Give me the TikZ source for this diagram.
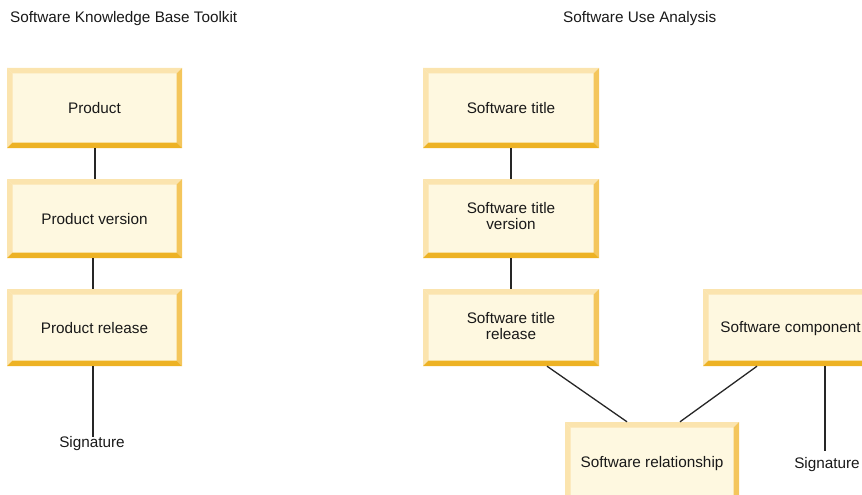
\documentclass[tikz,border=0pt]{standalone}
\usepackage{fontspec}
\setmainfont{Liberation Sans}
\definecolor{bevfill}{HTML}{FEF8E0}
\definecolor{bevlight}{HTML}{FBE4AE}
\definecolor{bevright}{HTML}{F4C65C}
\definecolor{bevbottom}{HTML}{EDB224}
\begin{document}
\begin{tikzpicture}[x=1pt,y=1pt,
  font=\fontsize{15.3}{16}\selectfont,
  bev/.store in=\bevw, bev=5.5pt,
  textshift/.store in=\entityshift, textshift=-0.3pt,
  entity/.style={rectangle, minimum width=175pt, minimum height=80pt,
    align=center, inner sep=0pt, fill=bevfill,
    path picture={
      \fill[bevlight] (path picture bounding box.north west) -- (path picture bounding box.north east)
        -- ([shift={(-\bevw,-\bevw)}]path picture bounding box.north east)
        -- ([shift={(\bevw,-\bevw)}]path picture bounding box.north west) -- cycle;
      \fill[bevlight] (path picture bounding box.north west) -- ([shift={(\bevw,-\bevw)}]path picture bounding box.north west)
        -- ([shift={(\bevw,\bevw)}]path picture bounding box.south west)
        -- (path picture bounding box.south west) -- cycle;
      \fill[bevright] (path picture bounding box.north east) -- (path picture bounding box.south east)
        -- ([shift={(-\bevw,\bevw)}]path picture bounding box.south east)
        -- ([shift={(-\bevw,-\bevw)}]path picture bounding box.north east) -- cycle;
      \fill[bevbottom] (path picture bounding box.south west) -- (path picture bounding box.south east)
        -- ([shift={(-\bevw,\bevw)}]path picture bounding box.south east)
        -- ([shift={(\bevw,\bevw)}]path picture bounding box.south west) -- cycle;
      \node[text=black!90, align=center, inner sep=0pt] at ([yshift=\entityshift]path picture bounding box.center) {\entitytext};
    }},
  label text/.style={inner sep=0pt, text=black!90},
  title/.style={inner sep=0pt, anchor=west, text=black!90},
  link/.style={draw=black!85, line width=1.3pt}]
\useasboundingbox (0,0) rectangle (862,-495);
\clip (0,0) rectangle (862,-495);

% Each entity box: the label is set by the path picture, above the bevels
\newcommand\entitybox[4][]{%
  \def\entitytext{#4}%
  \node[entity, #1] (#2) at (#3) {};}

% Column titles
\node[title] (t1) at (10,-19) {Software Knowledge Base Toolkit};
\node[title] (t2) at (563,-19) {Software Use Analysis};

% Software Knowledge Base Toolkit hierarchy
\entitybox{prod}{94.5,-108}{Product}
\entitybox[minimum height=79pt]{pver}{94.5,-218.5}{Product version}
\entitybox[minimum height=77pt]{prel}{94.5,-327.5}{Product release}
\node[label text] (sig1) at (92,-444) {Signature};

% Software Use Analysis hierarchy
\entitybox[minimum width=176pt]{swt}{511,-108}{Software title}
\entitybox[minimum width=176pt, minimum height=79pt, textshift=2pt]{swtv}{511,-218.5}{Software title\\version}
\entitybox[minimum width=176pt, minimum height=77pt, textshift=1.5pt]{swtr}{511,-327.5}{Software title\\release}
\entitybox[minimum height=77pt, textshift=-1.5pt]{comp}{790.5,-327.5}{Software component}
\entitybox[minimum width=174pt, textshift=-1.5pt]{rel}{652,-462}{Software relationship}
\node[label text] (sig2) at (827,-464.5) {Signature};

% Connectors
\draw[link] ([xshift=0.5pt]prod.south) -- ([xshift=0.5pt]pver.north);
\draw[link] ([xshift=-1.5pt]pver.south) -- ([xshift=-1.5pt]prel.north);
\draw[link] ([xshift=-1.5pt]prel.south) -- ([xshift=-1.5pt]prel.south |- sig1.north);
\draw[link] (swt.south) -- (swtv.north);
\draw[link] (swtv.south) -- (swtr.north);
\draw[link] ([xshift=36pt]swtr.south) -- ([xshift=-25pt]rel.north);
\draw[link] ([xshift=-33.5pt]comp.south) -- ([xshift=28pt]rel.north);
\draw[link] ([xshift=34.5pt]comp.south) -- ([xshift=34.5pt,yshift=-85pt]comp.south);
\end{tikzpicture}
\end{document}
